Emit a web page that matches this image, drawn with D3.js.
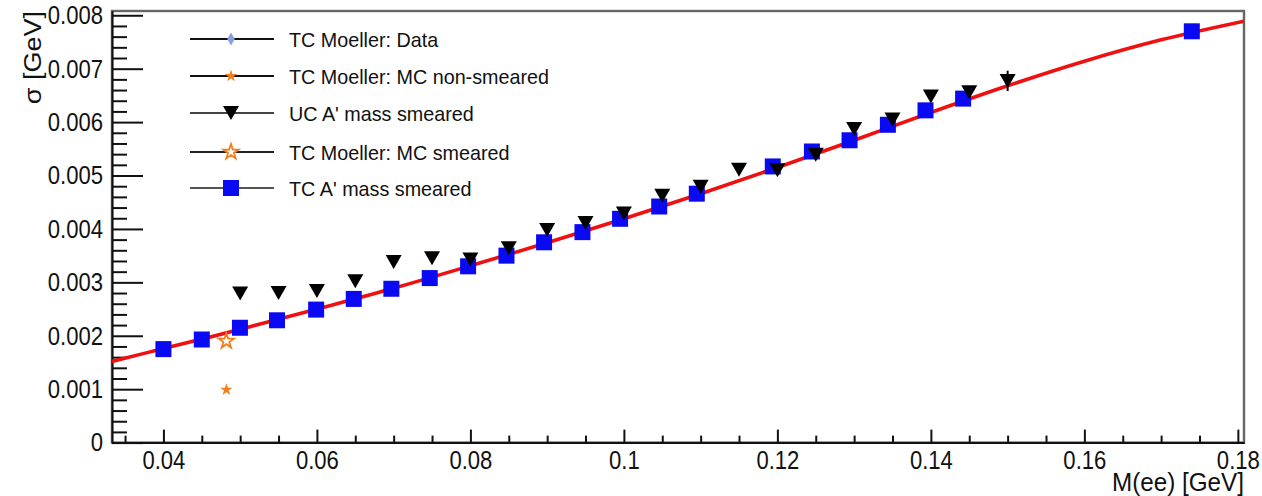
<!DOCTYPE html>
<html>
<head>
<meta charset="utf-8">
<script src="https://cdn.jsdelivr.net/npm/d3@7"></script>
<style>
  html, body { margin: 0; padding: 0; background: #fff; }
  svg { display: block; font-family: "Liberation Sans", Arial, Helvetica, sans-serif; }
</style>
</head>
<body>
<svg id="chart" width="1262" height="496"></svg>
<script>
// ---------------- data ----------------
// TC A' mass smeared (blue squares)
const tcMass  = [0.04, 0.045, 0.04997, 0.0548, 0.0599, 0.0648, 0.0697, 0.0747, 0.0797, 0.0847, 0.0896, 0.0946, 0.0995, 0.1046, 0.1095, 0.1194, 0.1245, 0.1294, 0.1344, 0.1393, 0.1442, 0.174];
const tcSigma = [0.00175, 0.00193, 0.00215, 0.00229, 0.00249, 0.00269, 0.00288, 0.00308, 0.0033, 0.0035, 0.00375, 0.00394, 0.00419, 0.00442, 0.00466, 0.00517, 0.00545, 0.00566, 0.00595, 0.00622, 0.00644, 0.0077];

// UC A' mass smeared (black down triangles)
const ucMass  = [0.05, 0.055, 0.06, 0.065, 0.07, 0.075, 0.08, 0.085, 0.09, 0.095, 0.1, 0.105, 0.11, 0.115, 0.12, 0.125, 0.13, 0.135, 0.14, 0.145, 0.15];
const ucSigma = [0.00279, 0.0028, 0.00284, 0.00302, 0.00338, 0.00345, 0.00343, 0.00364, 0.00398, 0.00411, 0.00429, 0.00462, 0.00479, 0.00511, 0.0051, 0.00539, 0.00587, 0.00605, 0.00648, 0.00656, 0.00677];
const ucErr   = [0.00008, 0.00008, 0.00008, 0.00008, 0.00008, 0.00008, 0.00008, 0.00008, 0.00008, 0.00008, 0.00008, 0.00008, 0.00008, 0.00008, 0.00008, 0.00008, 0.00008, 0.00008, 0.0001, 0.0001, 0.00019];

// TC Moeller points
const moellerDataMass = [];
const moellerDataSigma = [];
const moellerMCMass = [0.0482];
const moellerMCSigma = [0.00099];
const moellerMCSmearMass = [0.0482];
const moellerMCSmearSigma = [0.0019];

// fit curve (red)
const fitMass  = [0.0333, 0.04, 0.05, 0.06, 0.07, 0.08, 0.09, 0.10, 0.11, 0.12, 0.13, 0.14, 0.15, 0.16, 0.17, 0.1808];
const fitSigma = [0.00152, 0.00176, 0.00212, 0.0025, 0.00289, 0.00331, 0.00374, 0.00419, 0.00466, 0.00515, 0.00566, 0.00618, 0.00668, 0.00714, 0.00754, 0.00789];

// axes
const xMajorTicks = [0.04, 0.06, 0.08, 0.1, 0.12, 0.14, 0.16, 0.18];
const xTickLabels = ["0.04", "0.06", "0.08", "0.1", "0.12", "0.14", "0.16", "0.18"];
const yMajorTicks = [0, 0.001, 0.002, 0.003, 0.004, 0.005, 0.006, 0.007, 0.008];
const yTickLabels = ["0", "0.001", "0.002", "0.003", "0.004", "0.005", "0.006", "0.007", "0.008"];
const xTitle = "M(ee) [GeV]";
const yTitle = "σ [GeV]";
const legendLabels = ["TC Moeller: Data", "TC Moeller: MC non-smeared", "UC A' mass smeared", "TC Moeller: MC smeared", "TC A' mass smeared"];

// ---------------- layout ----------------
const L = 112, R = 1244, T = 11, B = 442.6;
const SX = 0.85; // horizontal squeeze of the tick-label glyphs
const svg = d3.select("#chart");
svg.append("rect").attr("width", 1262).attr("height", 496).attr("fill", "#fff");

const x = d3.scaleLinear().domain([0.0333, 0.1808]).range([L, R]);
const y = d3.scaleLinear().domain([0, 0.00808]).range([B, T]);

function squeeze(sel, f) {
  sel.each(function() {
    const w = this.getComputedTextLength();
    d3.select(this).attr("textLength", w * f).attr("lengthAdjust", "spacingAndGlyphs");
  });
}

// frame
svg.append("rect").attr("x", L).attr("y", T).attr("width", R - L).attr("height", B - T)
  .attr("fill", "none").attr("stroke", "#666").attr("stroke-width", 2.4);

// minor ticks
const xMinor = d3.range(7, 37).map(i => i * 0.005).filter(v => Math.abs(v / 0.02 - Math.round(v / 0.02)) > 1e-6 && v > 0.0333 && v < 0.1808);
const yMinor = d3.range(1, 41).map(i => i * 0.0002).filter(v => Math.abs(v / 0.001 - Math.round(v / 0.001)) > 1e-6);

const gx = svg.append("g").attr("transform", `translate(0,${B})`);
gx.call(d3.axisBottom(x).tickValues(xMinor).tickSize(-7).tickSizeOuter(0).tickFormat(""));
gx.call(g => g.selectAll(".tick line").attr("stroke", "#111").attr("stroke-width", 2));
const gx2 = svg.append("g").attr("transform", `translate(0,${B})`);
gx2.call(d3.axisBottom(x).tickValues(xMajorTicks).tickSize(-13).tickSizeOuter(0).tickPadding(8)
  .tickFormat((d, i) => xTickLabels[i]));
gx2.selectAll(".tick line").attr("stroke", "#111").attr("stroke-width", 2);
gx2.selectAll("path.domain").attr("stroke", "#111").attr("stroke-width", 2);
gx2.selectAll("text").attr("font-size", 26).attr("fill", "#111").attr("font-family", "Liberation Sans, Arial, sans-serif")
  .attr("transform", `scale(${SX},1)`);

const gy = svg.append("g").attr("transform", `translate(${L},0)`);
gy.call(d3.axisLeft(y).tickValues(yMinor).tickSize(-15).tickSizeOuter(0).tickFormat(""));
gy.selectAll(".tick line").attr("stroke", "#111").attr("stroke-width", 2);
const gy2 = svg.append("g").attr("transform", `translate(${L},0)`);
gy2.call(d3.axisLeft(y).tickValues(yMajorTicks).tickSize(-31).tickSizeOuter(0).tickPadding(9)
  .tickFormat((d, i) => yTickLabels[i]));
gy2.selectAll(".tick line").attr("stroke", "#111").attr("stroke-width", 2);
gy2.selectAll("path.domain").attr("stroke", "#111").attr("stroke-width", 2);
gy2.selectAll("text").attr("font-size", 26).attr("fill", "#111").attr("font-family", "Liberation Sans, Arial, sans-serif")
  .attr("x", -9 / SX).attr("transform", `scale(${SX},1)`);

// titles
svg.append("text").attr("transform", `translate(${R},491) scale(0.97,1)`).attr("text-anchor", "end")
  .attr("font-size", 25).attr("fill", "#111").text(xTitle);
svg.append("g").attr("transform", `translate(41,${T}) scale(0.86,1) rotate(-90)`)
  .append("text").attr("text-anchor", "end").attr("font-size", 27).attr("fill", "#111").text(yTitle);

// clip
svg.append("clipPath").attr("id", "clip").append("rect").attr("x", L).attr("y", T).attr("width", R - L).attr("height", B - T);
const plot = svg.append("g").attr("clip-path", "url(#clip)");

// fit curve
const fitPts = fitMass.map((m, i) => [m, fitSigma[i]]);
plot.append("path").datum(fitPts)
  .attr("d", d3.line().x(d => x(d[0])).y(d => y(d[1])).curve(d3.curveCatmullRom))
  .attr("fill", "none").attr("stroke", "#f01010").attr("stroke-width", 3.6);

// marker shapes
const triPath = "M-8,-7L8,-7L0,7Z";
const starSmall = d3.symbol().type(d3.symbolStar).size(48)();
const starBig = d3.symbol().type(d3.symbolStar).size(72)();
const diamond = d3.symbol().type(d3.symbolDiamond).size(50)();
const sq = 16;

// blue squares
plot.selectAll("rect.tc").data(tcMass.map((m, i) => [m, tcSigma[i]])).join("rect")
  .attr("class", "tc")
  .attr("x", d => x(d[0]) - sq / 2).attr("y", d => y(d[1]) - sq / 2)
  .attr("width", sq).attr("height", sq).attr("fill", "#0a0af2");

// UC error bars + triangles
const ucData = ucMass.map((m, i) => [m, ucSigma[i], ucErr[i]]);
plot.selectAll("line.ucerr").data(ucData).join("line")
  .attr("x1", d => x(d[0])).attr("x2", d => x(d[0]))
  .attr("y1", d => y(d[1] - d[2])).attr("y2", d => y(d[1] + d[2]))
  .attr("stroke", "#000").attr("stroke-width", 2);
plot.selectAll("path.uc").data(ucData).join("path")
  .attr("d", triPath).attr("transform", d => `translate(${x(d[0])},${y(d[1])})`).attr("fill", "#000");

// Moeller
plot.selectAll("path.md").data(moellerDataMass.map((m, i) => [m, moellerDataSigma[i]])).join("path")
  .attr("d", diamond).attr("transform", d => `translate(${x(d[0])},${y(d[1])})`).attr("fill", "#8c9fdc");
plot.selectAll("path.mc").data(moellerMCMass.map((m, i) => [m, moellerMCSigma[i]])).join("path")
  .attr("d", starSmall).attr("transform", d => `translate(${x(d[0])},${y(d[1])})`).attr("fill", "#f0801e");
plot.selectAll("path.ms").data(moellerMCSmearMass.map((m, i) => [m, moellerMCSmearSigma[i]])).join("path")
  .attr("d", starBig).attr("transform", d => `translate(${x(d[0])},${y(d[1])})`)
  .attr("fill", "none").attr("stroke", "#f0801e").attr("stroke-width", 1.8);

// legend
const legRows = [39, 76, 113, 152, 188];
const legLine = ["#111", "#111", "#444", "#222", "#555"];
const leg = svg.append("g");
legendLabels.forEach((lab, i) => {
  const cy = legRows[i];
  leg.append("line").attr("x1", 190).attr("x2", 274).attr("y1", cy).attr("y2", cy)
    .attr("stroke", legLine[i]).attr("stroke-width", 2.2);
  const g = leg.append("g").attr("transform", `translate(231,${cy})`);
  if (i === 0) g.append("path").attr("d", diamond).attr("fill", "#8c9fdc");
  if (i === 1) g.append("path").attr("d", starSmall).attr("fill", "#f0801e");
  if (i === 2) g.append("path").attr("d", triPath).attr("fill", "#000");
  if (i === 3) g.append("path").attr("d", starBig).attr("fill", "#fff").attr("stroke", "#f0801e").attr("stroke-width", 1.8);
  if (i === 4) g.append("rect").attr("x", -sq / 2).attr("y", -sq / 2).attr("width", sq).attr("height", sq).attr("fill", "#0a0af2");
  const t = leg.append("text").attr("x", 289).attr("y", cy).attr("dy", "0.36em")
    .attr("font-size", 21).attr("fill", "#111").text(lab);
  squeeze(t, 0.94);
});
</script>
</body>
</html>
